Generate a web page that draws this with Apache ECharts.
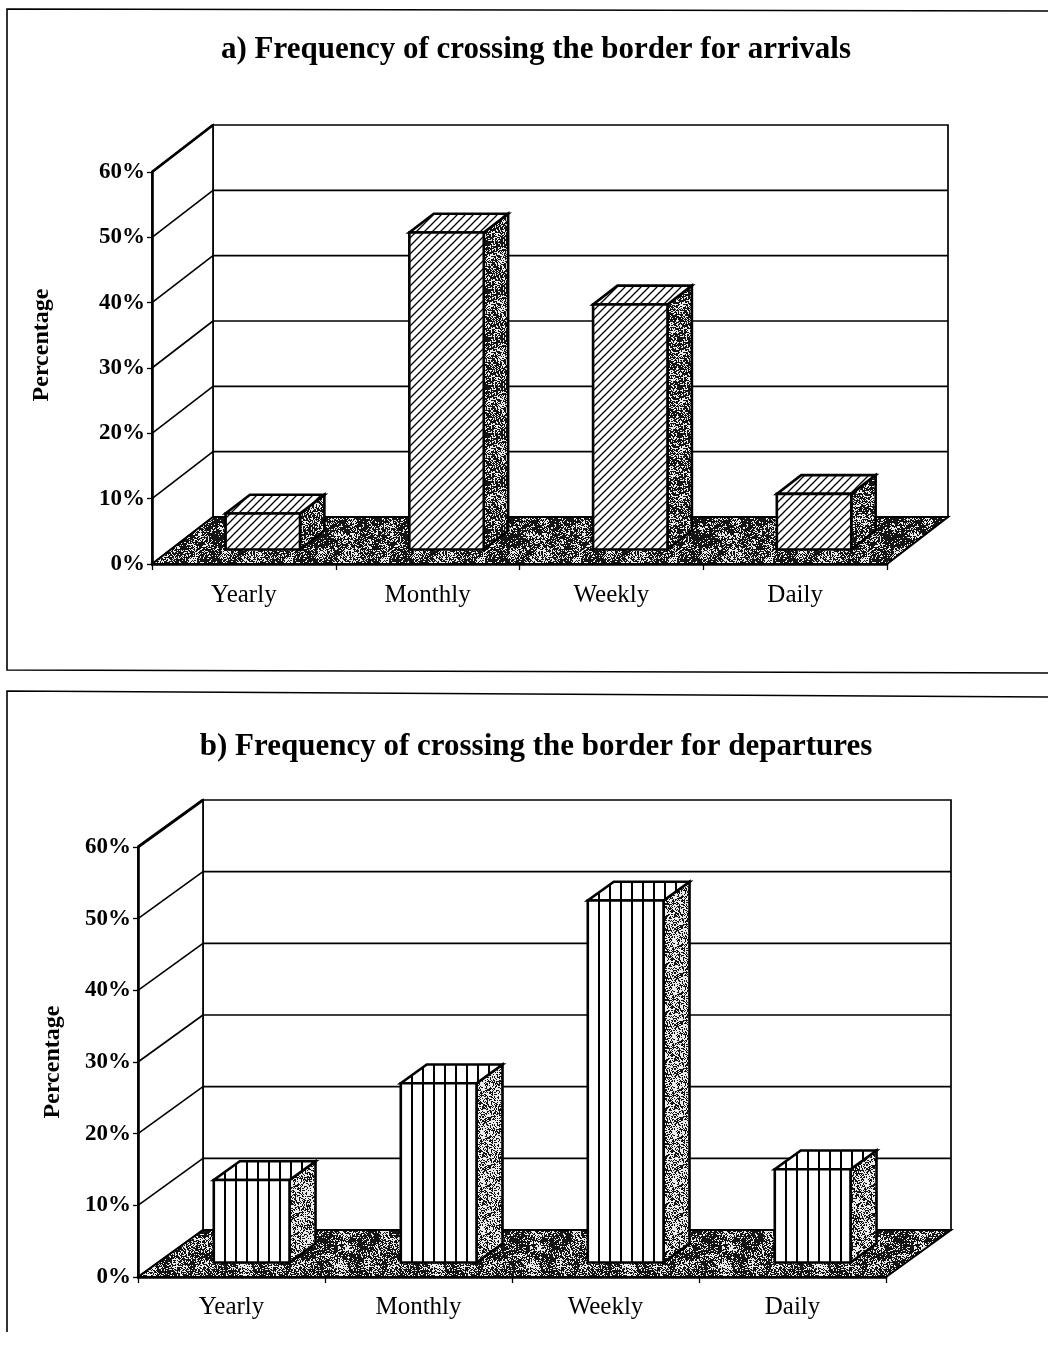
<!DOCTYPE html>
<html>
<head>
<meta charset="utf-8">
<title>Frequency of crossing the border</title>
<script src="https://cdn.jsdelivr.net/npm/echarts@6/dist/echarts.min.js"></script>
<style>
  html, body { margin: 0; padding: 0; background: #fff; }
  #main { width: 1048px; height: 1354px; }
</style>
</head>
<body>
<div id="main"></div>
<script>
// ---- data ----
const categories = ['Yearly', 'Monthly', 'Weekly', 'Daily'];
const arrivals = [5.5, 48.5, 37.5, 8.5];      // % of respondents, arrivals
const departures = [11.5, 25, 50.5, 13];      // % of respondents, departures
const percentTicks = [0, 10, 20, 30, 40, 50, 60];
const titleArrivals = 'a) Frequency of crossing the border for arrivals';
const titleDepartures = 'b) Frequency of crossing the border for departures';
const axisName = 'Percentage';

const SERIF = '"Liberation Serif", "DejaVu Serif", serif';

// ---- fill textures ----
function hash(x, y, s) {
  let n = Math.imul(x, 374761393) + Math.imul(y, 668265263) + Math.imul(s, 1442695041);
  n = Math.imul(n ^ (n >>> 13), 1274126177);
  n = n ^ (n >>> 16);
  return (n >>> 0) / 4294967296;
}
// stippled grey texture: fine dark grain with lighter patches
function speckle(size, darkness, seed, coarseWeight) {
  const c = document.createElement('canvas');
  c.width = c.height = size;
  const ctx = c.getContext('2d');
  const img = ctx.createImageData(size, size);
  const cell = 8, cells = size / cell;
  const smooth = t => t * t * (3 - 2 * t);
  for (let y = 0; y < size; y++) {
    for (let x = 0; x < size; x++) {
      const cx = Math.floor(x / cell), cy = Math.floor(y / cell);
      const fx = smooth((x % cell) / cell), fy = smooth((y % cell) / cell);
      const a = hash(cx % cells, cy % cells, seed);
      const b = hash((cx + 1) % cells, cy % cells, seed);
      const c2 = hash(cx % cells, (cy + 1) % cells, seed);
      const d = hash((cx + 1) % cells, (cy + 1) % cells, seed);
      const coarse = (a * (1 - fx) + b * fx) * (1 - fy) + (c2 * (1 - fx) + d * fx) * fy;
      const fine = hash(x, y, seed + 7);
      const v = coarseWeight * coarse + (1 - coarseWeight) * fine;
      const k = v < darkness ? 20 : 235;
      const i = (y * size + x) * 4;
      img.data[i] = img.data[i + 1] = img.data[i + 2] = k;
      img.data[i + 3] = 255;
    }
  }
  ctx.putImageData(img, 0, 0);
  return c;
}
function diagonalHatch() {
  const s = 8;
  const c = document.createElement('canvas');
  c.width = c.height = s;
  const ctx = c.getContext('2d');
  ctx.fillStyle = '#fff';
  ctx.fillRect(0, 0, s, s);
  ctx.strokeStyle = '#000';
  ctx.lineWidth = 1.3;
  ctx.beginPath();
  ctx.moveTo(-1, s + 1); ctx.lineTo(s + 1, -1);
  ctx.moveTo(-3, 3); ctx.lineTo(3, -3);
  ctx.moveTo(s - 3, s + 3); ctx.lineTo(s + 3, s - 3);
  ctx.stroke();
  return c;
}
function verticalStripes() {
  const w = 11;
  const c = document.createElement('canvas');
  c.width = w; c.height = 4;
  const ctx = c.getContext('2d');
  ctx.fillStyle = '#fff';
  ctx.fillRect(0, 0, w, 4);
  ctx.fillStyle = '#000';
  ctx.fillRect(0, 0, 2, 4);
  return c;
}

const floorTex = speckle(96, 0.61, 11, 0.38);
const sideTexDark = speckle(48, 0.58, 23, 0.25);
const sideTexLight = speckle(48, 0.46, 37, 0.25);
const hatchTex = diagonalHatch();
const stripeTex = verticalStripes();

// ---- panel layout ----
const panels = [
  {
    title: titleArrivals, values: arrivals,
    grid: { left: 152, top: 172, width: 735, height: 392 },
    dx: 61, dy: -47, face: 'hatch', side: sideTexDark,
    titleY: 50, nameX: 42, nameY: 345, labelMargin: 19
  },
  {
    title: titleDepartures, values: departures,
    grid: { left: 138, top: 847, width: 748, height: 430 },
    dx: 65, dy: -47, face: 'stripes', side: sideTexLight,
    titleY: 747, nameX: 53, nameY: 1062, labelMargin: 18
  }
];

// bars sit in the middle of the floor depth
const DEPTH_FRONT = 0.31, DEPTH_BACK = 0.71, BAR_WIDTH = 0.405;

function frameRenderer(p) {
  return function (params, api) {
    const cs = params.coordSys;
    const x0 = cs.x, x1 = cs.x + cs.width;
    const yOf = v => api.coord([0, v])[1];
    const y0 = yOf(0), yTop = yOf(percentTicks[percentTicks.length - 1]);
    const dx = p.dx, dy = p.dy;
    const kids = [];
    // back wall
    kids.push({ type: 'rect', shape: { x: x0 + dx, y: yTop + dy, width: x1 - x0, height: y0 - yTop },
      style: { fill: '#fff', stroke: '#000', lineWidth: 1.7 } });
    // side wall
    kids.push({ type: 'polygon', shape: { points: [[x0, y0], [x0, yTop], [x0 + dx, yTop + dy], [x0 + dx, y0 + dy]] },
      style: { fill: '#fff', stroke: '#000', lineWidth: 1.7 } });
    percentTicks.forEach(t => {
      if (t === 0) return;
      const y = yOf(t);
      const top = t === percentTicks[percentTicks.length - 1];
      if (!top) {
        kids.push({ type: 'line', shape: { x1: x0 + dx, y1: y + dy, x2: x1 + dx, y2: y + dy },
          style: { stroke: '#000', lineWidth: 1.6 } });
      }
      kids.push({ type: 'line', shape: { x1: x0, y1: y, x2: x0 + dx, y2: y + dy },
        style: { stroke: '#000', lineWidth: top ? 2.8 : 1.6 } });
    });
    // floor
    kids.push({ type: 'polygon', shape: { points: [[x0, y0], [x1, y0], [x1 + dx, y0 + dy], [x0 + dx, y0 + dy]] },
      style: { fill: { image: floorTex, repeat: 'repeat' }, stroke: '#000', lineWidth: 2, lineJoin: 'miter' } });
    return { type: 'group', children: kids };
  };
}

function barRenderer(p) {
  return function (params, api) {
    const idx = api.value(0), val = api.value(1);
    const base = api.coord([idx, 0]);
    const tip = api.coord([idx, val]);
    const band = api.size([1, 0])[0];
    const w = band * BAR_WIDTH;
    const fx = DEPTH_FRONT * p.dx, fy = DEPTH_FRONT * p.dy;
    const ddx = (DEPTH_BACK - DEPTH_FRONT) * p.dx, ddy = (DEPTH_BACK - DEPTH_FRONT) * p.dy;
    const left = base[0] + fx - w / 2, right = left + w;
    const bottom = base[1] + fy, top = tip[1] + fy;
    const faceFill = p.face === 'hatch'
      ? { image: hatchTex, repeat: 'repeat' }
      : { image: stripeTex, repeat: 'repeat', x: Math.round(left) - 1 };
    const edge = { stroke: '#000', lineWidth: 2.6, lineJoin: 'miter' };
    return {
      type: 'group',
      children: [
        { type: 'polygon', shape: { points: [[right, top], [right + ddx, top + ddy], [right + ddx, bottom + ddy], [right, bottom]] },
          style: Object.assign({ fill: { image: p.side, repeat: 'repeat' } }, edge) },
        { type: 'polygon', shape: { points: [[left, top], [right, top], [right + ddx, top + ddy], [left + ddx, top + ddy]] },
          style: Object.assign({ fill: faceFill }, edge) },
        { type: 'rect', shape: { x: left, y: top, width: w, height: bottom - top },
          style: Object.assign({ fill: faceFill }, edge) }
      ]
    };
  };
}

const option = {
  backgroundColor: '#fff',
  animation: false,
  grid: panels.map(p => Object.assign({ containLabel: false }, p.grid)),
  xAxis: panels.map((p, i) => ({
    type: 'category', gridIndex: i, data: categories, boundaryGap: true, z: 10,
    axisLine: { show: true, lineStyle: { color: '#000', width: 2.6 } },
    axisTick: { show: true, alignWithLabel: false, length: 6, lineStyle: { color: '#000', width: 1.3 } },
    axisLabel: { color: '#000', fontFamily: SERIF, fontSize: 25, margin: p.labelMargin },
    splitLine: { show: false }
  })),
  yAxis: panels.map((p, i) => ({
    type: 'value', gridIndex: i, min: 0, max: 60, interval: 10, z: 10,
    axisLine: { show: true, lineStyle: { color: '#000', width: 2.6 } },
    axisTick: { show: true, length: 5, lineStyle: { color: '#000', width: 1.3 } },
    axisLabel: { color: '#000', fontFamily: SERIF, fontWeight: 'bold', fontSize: 23, margin: 7,
      formatter: '{value}%' },
    splitLine: { show: false }
  })),
  series: [].concat(
    panels.map((p, i) => ({
      type: 'custom', name: 'frame' + i, xAxisIndex: i, yAxisIndex: i, z: 1, silent: true, clip: false,
      data: [[0, 0]], renderItem: frameRenderer(p)
    })),
    panels.map((p, i) => ({
      type: 'custom', name: p.title, xAxisIndex: i, yAxisIndex: i, z: 3, silent: true, clip: false,
      encode: { x: 0, y: 1 },
      data: p.values.map((v, k) => [k, v]), renderItem: barRenderer(p)
    }))
  ),
  graphic: [].concat(
    // panel frames
    [
      { type: 'polyline', shape: { points: [[1060, 11], [7, 9], [7, 670], [1060, 673]] },
        style: { fill: null, stroke: '#000', lineWidth: 1.6 }, z: 0 },
      { type: 'polyline', shape: { points: [[1060, 697], [7, 691], [7, 1332]] },
        style: { fill: null, stroke: '#000', lineWidth: 1.6 }, z: 0 }
    ],
    panels.map(p => ({
      type: 'text', x: 536, y: p.titleY,
      style: { text: p.title, fill: '#000', font: 'bold 31px ' + SERIF, textAlign: 'center', textVerticalAlign: 'middle' }
    })),
    panels.map(p => ({
      type: 'text', x: p.nameX, y: p.nameY, rotation: Math.PI / 2,
      style: { text: axisName, fill: '#000', font: 'bold 24px ' + SERIF, textAlign: 'center', textVerticalAlign: 'middle' }
    }))
  )
};

const chart = echarts.init(document.getElementById('main'), null, { renderer: 'canvas' });
chart.setOption(option);
</script>
</body>
</html>
